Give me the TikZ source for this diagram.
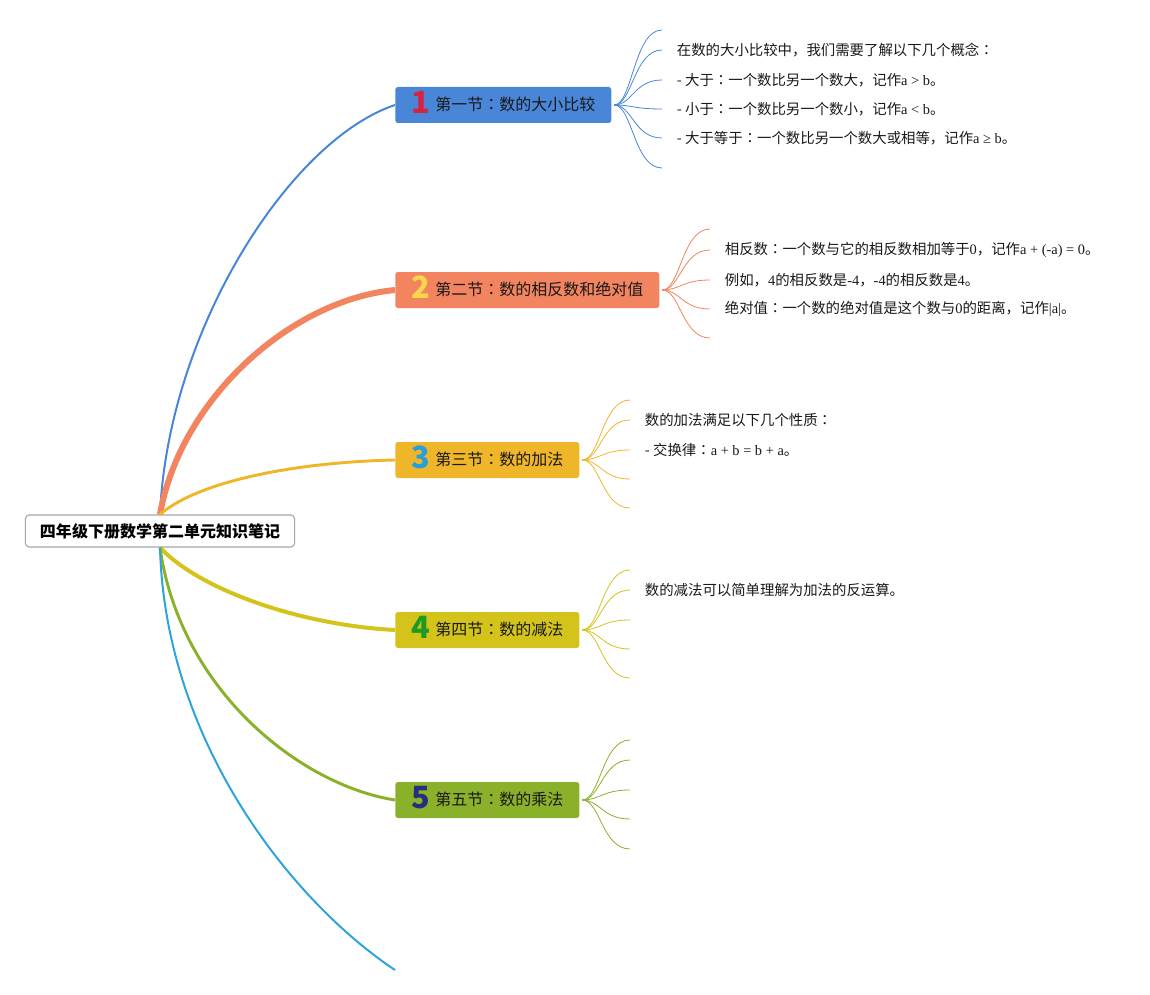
\documentclass[tikz,border=0pt]{standalone}
\usepackage{fontspec}
\setmainfont{Noto Sans CJK SC}
\newfontfamily\latinfont{Liberation Serif}
\newfontfamily\colonfont{Noto Sans CJK TC}
\usetikzlibrary{positioning}
\definecolor{secblue}{HTML}{4A86D8}
\definecolor{secsalmon}{HTML}{F2845F}
\definecolor{secamber}{HTML}{F0B62A}
\definecolor{secolive}{HTML}{D3C31B}
\definecolor{secgreen}{HTML}{8BB12B}
\definecolor{lineblue}{HTML}{2FA4DC}
\definecolor{numred}{HTML}{D8223F}
\definecolor{numyellow}{HTML}{F7D84A}
\definecolor{numblue}{HTML}{2A9ED8}
\definecolor{numgreen}{HTML}{1E9A22}
\definecolor{numnavy}{HTML}{252F80}
\newcommand{\lt}[1]{{\latinfont #1}}
\newcommand{\cln}{{\colonfont ：}}
\newcommand{\secnum}[2]{\raisebox{-2.5pt}{\fontsize{23}{23}\selectfont\bfseries\color{#1}#2}\hspace{4pt}}

\begin{document}
\begin{tikzpicture}[x=0.75pt,y=-0.75pt,
    root/.style={draw=gray!70,line width=0.8pt,rounded corners=3pt,fill=white,
                 minimum width=202pt,minimum height=24pt,
                 font=\fontsize{12}{14}\selectfont\bfseries},
    section/.style={rounded corners=2pt,minimum height=27pt,inner xsep=12pt,
                    text height=10pt,text depth=2pt,
                    anchor=west,font=\fontsize{12}{14}\selectfont,text=black!90},
    leaf/.style={inner sep=0pt,font=\fontsize{10.8}{13}\selectfont,text=black!90},
    fan/.style={line width=0.6pt}
]
    \useasboundingbox (0,0) rectangle (1150,995);

    % root and sections
    \node[root] (root) at (160,531) {四年级下册数学第二单元知识笔记};
    \node[section,fill=secblue] (s1) at (395,105) {\secnum{numred}{1}第一节\cln 数的大小比较};
    \node[section,fill=secsalmon] (s2) at (395,290) {\secnum{numyellow}{2}第二节\cln 数的相反数和绝对值};
    \node[section,fill=secamber] (s3) at (395,460) {\secnum{numblue}{3}第三节\cln 数的加法};
    \node[section,fill=secolive] (s4) at (395,630) {\secnum{numgreen}{4}第四节\cln 数的减法};
    \node[section,fill=secgreen] (s5) at (395,800) {\secnum{numnavy}{5}第五节\cln 数的乘法};
    \coordinate (s6) at (395,970);

    % main branches
    \draw[secblue,line width=1.5pt] (root.north) .. controls (168,330) and (290,140) .. (s1.west);
    \draw[secsalmon,line width=4.5pt] (root.north) .. controls (180,400) and (290,300) .. (s2.west);
    \draw[secamber,line width=2.2pt] (root.north) .. controls (200,480) and (300,462) .. (s3.west);
    \draw[secolive,line width=3pt] (root.south) .. controls (200,590) and (300,625) .. (s4.west);
    \draw[secgreen,line width=2.2pt] (root.south) .. controls (180,690) and (300,785) .. (s5.west);
    \draw[lineblue,line width=1.5pt] (root.south) .. controls (165,740) and (290,900) .. (s6);

    % leaf fans
    \foreach \s/\c/\x/\ys in {1/secblue/662/{30,50,80,109,138,168},
                              2/secsalmon/710/{229,250,280,309,338},
                              3/secamber/630/{400,420,450,479,508},
                              4/secolive/630/{570,590,620,649,678},
                              5/secgreen/630/{740,760,790,819,849}}{
        \foreach \y [count=\i] in \ys {
            \coordinate (e\s-\i) at (\x,\y);
            \draw[fan,\c] ([xshift=2pt]s\s.east) .. controls +(18,0) and +(-28,0) .. (e\s-\i);
        }
    }

    % leaf texts
    \node[leaf,right=11pt of e1-2] (t1a) {在数的大小比较中，我们需要了解以下几个概念\cln};
    \node[leaf,right=11pt of e1-3] (t1b) {- 大于\cln 一个数比另一个数大，记作\lt{a > b}。};
    \node[leaf,right=11pt of e1-4] (t1c) {- 小于\cln 一个数比另一个数小，记作\lt{a < b}。};
    \node[leaf,right=11pt of e1-5] (t1d) {- 大于等于\cln 一个数比另一个数大或相等，记作\lt{a ≥ b}。};
    \node[leaf,right=11pt of e2-2] (t2a) {相反数\cln 一个数与它的相反数相加等于\lt{0}，记作\lt{a + (-a) = 0}。};
    \node[leaf,right=11pt of e2-3] (t2b) {例如，\lt{4}的相反数是\lt{-4}，\lt{-4}的相反数是\lt{4}。};
    \node[leaf,right=11pt of e2-4] (t2c) {绝对值\cln 一个数的绝对值是这个数与\lt{0}的距离，记作\lt{|a|}。};
    \node[leaf,right=11pt of e3-2] (t3a) {数的加法满足以下几个性质\cln};
    \node[leaf,right=11pt of e3-3] (t3b) {- 交换律\cln \lt{a + b = b + a}。};
    \node[leaf,right=11pt of e4-2] (t4a) {数的减法可以简单理解为加法的反运算。};
\end{tikzpicture}
\end{document}
